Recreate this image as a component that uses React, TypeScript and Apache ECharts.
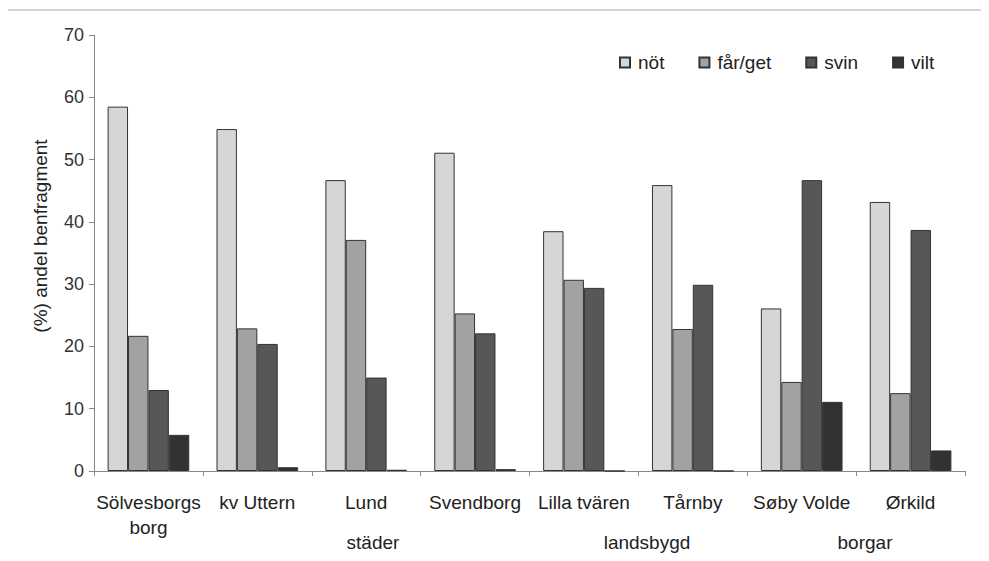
import React, { useEffect, useRef } from "react";
import * as echarts from "echarts";

const categories = [
  "Sölvesborgs\nborg",
  "kv Uttern",
  "Lund",
  "Svendborg",
  "Lilla tvären",
  "Tårnby",
  "Søby Volde",
  "Ørkild",
];
const seriesNames = ["nöt", "får/get", "svin", "vilt"];
const notValues = [58.5, 54.9, 46.7, 51.1, 38.5, 45.9, 26.1, 43.2];
const farGetValues = [21.7, 22.9, 37.1, 25.3, 30.7, 22.8, 14.3, 12.5];
const svinValues = [13.0, 20.4, 15.0, 22.1, 29.4, 29.9, 46.7, 38.7];
const viltValues = [5.8, 0.6, 0.2, 0.3, 0, 0, 11.1, 3.3];
const groupLabels = ["städer", "landsbygd", "borgar"];
const yTicks = { min: 0, max: 70, interval: 10 };
const yAxisTitle = "(%) andel benfragment";

const colors = ["#d6d6d6", "#a2a2a2", "#575757", "#323232"];
const FONT = "Liberation Sans, Arial, sans-serif";

export default function App() {
  const ref = useRef<HTMLDivElement>(null);
  useEffect(() => {
    if (!ref.current) return;
    const chart = echarts.init(ref.current, undefined, { renderer: "svg" });
    const values = [notValues, farGetValues, svinValues, viltValues];
    const groupText = (text: string, x: number) => ({
      type: "text",
      x,
      y: 542,
      style: { text, fontSize: 19, fontFamily: FONT, fill: "#222", align: "center", verticalAlign: "middle" },
    });
    chart.setOption({
      animation: false,
      backgroundColor: "#ffffff",
      textStyle: { fontFamily: FONT },
      grid: { left: 94, right: 24, top: 35, bottom: 90, containLabel: false },
      legend: {
        left: 614,
        top: 48,
        itemWidth: 10,
        itemHeight: 10,
        itemGap: 34,
        icon: "rect",
        textStyle: { fontSize: 19, color: "#222", fontFamily: FONT, padding: [0, 0, 0, 3] },
        data: seriesNames,
      },
      xAxis: {
        type: "category",
        data: categories,
        axisLine: { lineStyle: { color: "#888", width: 1 } },
        axisTick: { show: true, length: 5, lineStyle: { color: "#888" }, alignWithLabel: false },
        axisLabel: {
          interval: 0,
          fontSize: 19,
          color: "#222",
          fontFamily: FONT,
          margin: 19,
          lineHeight: 25,
          verticalAlign: "top",
        },
      },
      yAxis: {
        type: "value",
        min: yTicks.min,
        max: yTicks.max,
        interval: yTicks.interval,
        axisLine: { show: true, lineStyle: { color: "#888", width: 1 } },
        axisTick: { show: true, length: 5, lineStyle: { color: "#888" } },
        splitLine: { show: false },
        axisLabel: { fontSize: 18, color: "#333", fontFamily: FONT, margin: 10 },
      },
      graphic: [
        { type: "line", shape: { x1: 7, y1: 10, x2: 989, y2: 10 }, style: { stroke: "#aaa", lineWidth: 1 } },
        { type: "line", shape: { x1: 7, y1: 10, x2: 7, y2: 561 }, style: { stroke: "#aaa", lineWidth: 1 } },
        {
          type: "text",
          x: 40,
          y: 236,
          rotation: Math.PI / 2,
          style: {
            text: yAxisTitle,
            fontSize: 19,
            fontFamily: FONT,
            fill: "#222",
            align: "center",
            verticalAlign: "middle",
          },
        },
        groupText(groupLabels[0], 373),
        groupText(groupLabels[1], 647),
        groupText(groupLabels[2], 865),
      ],
      series: seriesNames.map((name, i) => ({
        name,
        type: "bar",
        data: values[i],
        barGap: "0%",
        barCategoryGap: "25%",
        itemStyle: { color: colors[i], borderColor: "#333", borderWidth: 1 },
      })),
    });
    return () => chart.dispose();
  }, []);
  return <div ref={ref} style={{ width: 989, height: 561, margin: -8 }} />;
}
